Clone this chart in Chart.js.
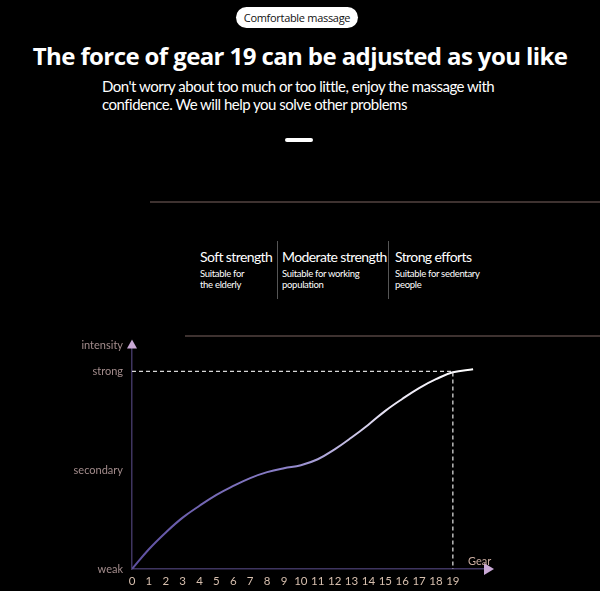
<!DOCTYPE html>
<html>
<head>
<meta charset="utf-8">
<script src="https://cdn.jsdelivr.net/npm/chart.js@4.4.1/dist/chart.umd.min.js"></script>
<style>
  html, body { margin: 0; padding: 0; background: #000; }
  body { width: 600px; height: 591px; position: relative; overflow: hidden; font-family: Lato, "Noto Sans", sans-serif; color: #fff; }
  .abs { position: absolute; }
  .pill { left: 236px; top: 7px; width: 122px; height: 21px; border-radius: 11px; background: #fff; color: #111;
          font: 11px "Open Sans", sans-serif; letter-spacing: -0.3px; white-space: nowrap; text-align: center; line-height: 21px; }
  .title { left: 0; width: 600px; top: 39px; text-align: center; font: bold 24px "Open Sans", sans-serif; letter-spacing: -0.6px; white-space: nowrap; }
  .sub { left: 102px; top: 77px; font-size: 15px; line-height: 18px; letter-spacing: -0.5px; white-space: nowrap; }
  .dash { left: 285px; top: 138px; width: 28px; height: 4px; background: #fff; border-radius: 2px; }
  .hline { height: 2px; background: #3e3230; }
  .col { top: 248px; white-space: nowrap; }
  .col h4 { margin: 0; font-weight: normal; font-size: 14px; letter-spacing: -0.6px; }
  .col p { margin: 3px 0 0 0; font-size: 9.5px; line-height: 11px; letter-spacing: -0.3px; }
  .vsep { width: 1px; background: #555; top: 241px; height: 58px; }
  #chartWrap { left: 0; top: 330px; width: 600px; height: 261px; }
</style>
</head>
<body>
<div class="abs pill">Comfortable massage</div>
<div class="abs title">The force of gear 19 can be adjusted as you like</div>
<div class="abs sub">Don't worry about too much or too little, enjoy the massage with<br>confidence. We will help you solve other problems</div>
<div class="abs dash"></div>
<div class="abs hline" style="left:150px; top:201px; width:450px;"></div>

<div class="abs col" style="left:200px;"><h4>Soft strength</h4><p>Suitable for<br>the elderly</p></div>
<div class="abs vsep" style="left:277px;"></div>
<div class="abs col" style="left:282px;"><h4>Moderate strength</h4><p>Suitable for working<br>population</p></div>
<div class="abs vsep" style="left:388px;"></div>
<div class="abs col" style="left:395px;"><h4>Strong efforts</h4><p>Suitable for sedentary<br>people</p></div>

<div class="abs hline" style="left:185px; top:335px; width:415px;"></div>

<div class="abs" id="chartWrap"><canvas id="intensityChart" width="600" height="261"></canvas></div>

<script>
// gears 0..19 plus the small tail after 19
const gears = [0, 1, 2, 3, 4, 5, 6, 7, 8, 9, 10, 11, 12, 13, 14, 15, 16, 17, 18, 19, 20.2];
const intensity = [0, 10, 18.5, 26, 32, 37.5, 42, 46, 49, 51, 52.5, 55.5, 60.5, 66.5, 73, 80, 86, 91.5, 96, 99.5, 101];
const levelValues = [0, 50, 100, 113];
const levelLabels = ['weak', 'secondary', 'strong', 'intensity'];
const gearTicks = [0, 1, 2, 3, 4, 5, 6, 7, 8, 9, 10, 11, 12, 13, 14, 15, 16, 17, 18, 19];
const X_MAX = 21.2;
const Y_MAX = 113;
const STRONG = 100;
const TOP_GEAR = 19;

const AXIS_COLOR = '#3f3560';
const ARROW_COLOR = '#c9a9d6';

// arrows at the axis ends + "Gear" caption
const axisArrows = {
  id: 'axisArrows',
  afterDraw(chart) {
    const { ctx } = chart;
    const x = chart.scales.x, y = chart.scales.y;
    const x0 = x.getPixelForValue(0), y0 = y.getPixelForValue(0);
    ctx.save();
    ctx.fillStyle = ARROW_COLOR;
    // up arrow
    const ty = y.getPixelForValue(Y_MAX);
    ctx.beginPath();
    ctx.moveTo(x0, ty - 6);
    ctx.lineTo(x0 - 5, ty + 3);
    ctx.lineTo(x0 + 5, ty + 3);
    ctx.closePath();
    ctx.fill();
    // right arrow
    const rx = x.getPixelForValue(X_MAX);
    ctx.beginPath();
    ctx.moveTo(rx + 4, y0);
    ctx.lineTo(rx - 6, y0 - 6);
    ctx.lineTo(rx - 6, y0 + 6);
    ctx.closePath();
    ctx.fill();
    ctx.fillStyle = '#c9ab9f';
    ctx.font = '11px Lato';
    ctx.textAlign = 'left';
    ctx.textBaseline = 'bottom';
    ctx.fillText('Gear', x.getPixelForValue(19.9), y0 - 2);
    ctx.restore();
  }
};

function curveGradient(context) {
  const area = context.chart.chartArea;
  if (!area) return '#8a7fc0';
  const g = context.chart.ctx.createLinearGradient(area.left, 0, area.left + 340, 0);
  g.addColorStop(0, '#5d4fa0');
  g.addColorStop(0.45, '#8b80c8');
  g.addColorStop(0.75, '#e8e4f4');
  g.addColorStop(1, '#ffffff');
  return g;
}

const ctx = document.getElementById('intensityChart').getContext('2d');
new Chart(ctx, {
  type: 'line',
  data: {
    datasets: [
      {
        label: 'guide',
        data: [{ x: 0, y: STRONG }, { x: TOP_GEAR, y: STRONG }, { x: TOP_GEAR, y: 0 }],
        borderColor: '#d8d8d8',
        borderWidth: 1.3,
        borderDash: [4, 3],
        pointRadius: 0,
        tension: 0
      },
      {
        label: 'intensity',
        data: gears.map((g, i) => ({ x: g, y: intensity[i] })),
        borderColor: curveGradient,
        borderWidth: 2,
        pointRadius: 0,
        tension: 0.4
      }
    ]
  },
  options: {
    responsive: false,
    animation: false,
    layout: { padding: { left: 0, right: 110, top: 12, bottom: 0 } },
    plugins: { legend: { display: false }, tooltip: { enabled: false } },
    scales: {
      x: {
        type: 'linear',
        min: 0,
        max: X_MAX,
        afterBuildTicks: (s) => { s.ticks = gearTicks.map(v => ({ value: v })); },
        afterFit: (s) => { s.height = 22; },
        grid: { display: false, drawTicks: false },
        border: { color: AXIS_COLOR, width: 1.5 },
        ticks: { color: '#d7bfae', font: { size: 11.5, family: 'Lato' }, padding: 5, maxRotation: 0, autoSkip: false }
      },
      y: {
        min: 0,
        max: Y_MAX,
        afterBuildTicks: (s) => { s.ticks = levelValues.map(v => ({ value: v })); },
        afterFit: (s) => { s.width = 132; },
        grid: { display: false, drawTicks: false },
        border: { color: AXIS_COLOR, width: 1.5 },
        ticks: {
          color: '#a38c8c',
          font: { size: 11, family: 'Lato' },
          padding: 9,
          callback: (v) => levelLabels[levelValues.indexOf(v)]
        }
      }
    }
  },
  plugins: [axisArrows]
});
</script>
</body>
</html>
